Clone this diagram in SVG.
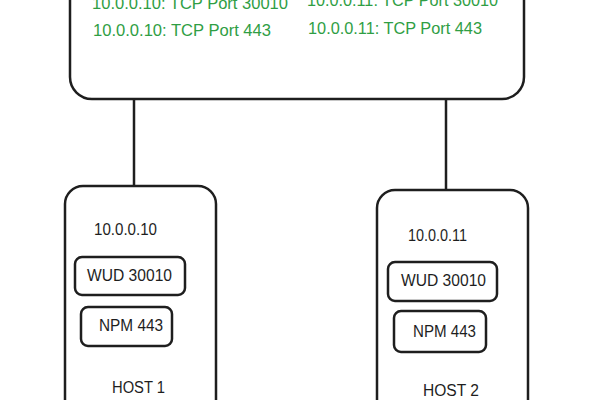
<svg xmlns="http://www.w3.org/2000/svg" width="600" height="400" viewBox="0 0 600 400">
<style>
.box{fill:none;stroke:#1e1e1e;stroke-width:2.5;stroke-linejoin:round}
.wire{stroke:#1e1e1e;stroke-width:2.5;fill:none}
.t{font-family:"Liberation Sans",Arial,sans-serif;font-size:16px;fill:#1e1e1e}
.g{font-family:"Liberation Sans",Arial,sans-serif;font-size:17px;fill:#2f9e44}
</style>
<rect width="600" height="400" fill="#ffffff"/>
<g id="network">
<rect class="box" x="70" y="-30" width="454" height="129" rx="22"/>
<text class="g" x="92" y="9" textLength="196" lengthAdjust="spacingAndGlyphs">10.0.0.10: TCP Port 30010</text>
<text class="g" x="93" y="36" textLength="178" lengthAdjust="spacingAndGlyphs">10.0.0.10: TCP Port 443</text>
<text class="g" x="307" y="6" textLength="191" lengthAdjust="spacingAndGlyphs">10.0.0.11: TCP Port 30010</text>
<text class="g" x="308" y="34" textLength="174" lengthAdjust="spacingAndGlyphs">10.0.0.11: TCP Port 443</text>
</g>
<g id="connectors">
<line class="wire" x1="134" y1="99" x2="134" y2="186"/>
<line class="wire" x1="446" y1="99" x2="446" y2="190"/>
</g>
<g id="host1">
<rect class="box" x="65" y="186" width="151" height="240" rx="18"/>
<text class="t" x="94" y="235" textLength="63" lengthAdjust="spacingAndGlyphs">10.0.0.10</text>
<text class="t" x="112" y="393" textLength="53" lengthAdjust="spacingAndGlyphs">HOST 1</text>
</g>
<g id="wud1">
<rect class="box" x="75" y="257" width="110" height="38" rx="7"/>
<text class="t" x="87" y="281" textLength="85" lengthAdjust="spacingAndGlyphs">WUD 30010</text>
</g>
<g id="npm1">
<rect class="box" x="81" y="307" width="91" height="39" rx="7"/>
<text class="t" x="99" y="331" textLength="64" lengthAdjust="spacingAndGlyphs">NPM 443</text>
</g>
<g id="host2">
<rect class="box" x="377" y="190" width="151" height="240" rx="18"/>
<text class="t" x="408" y="241" textLength="59" lengthAdjust="spacingAndGlyphs">10.0.0.11</text>
<text class="t" x="423" y="396" textLength="56" lengthAdjust="spacingAndGlyphs">HOST 2</text>
</g>
<g id="wud2">
<rect class="box" x="388" y="262" width="109" height="39" rx="7"/>
<text class="t" x="401" y="286" textLength="85" lengthAdjust="spacingAndGlyphs">WUD 30010</text>
</g>
<g id="npm2">
<rect class="box" x="394" y="311" width="92" height="41" rx="7"/>
<text class="t" x="413" y="337" textLength="63" lengthAdjust="spacingAndGlyphs">NPM 443</text>
</g>
</svg>
